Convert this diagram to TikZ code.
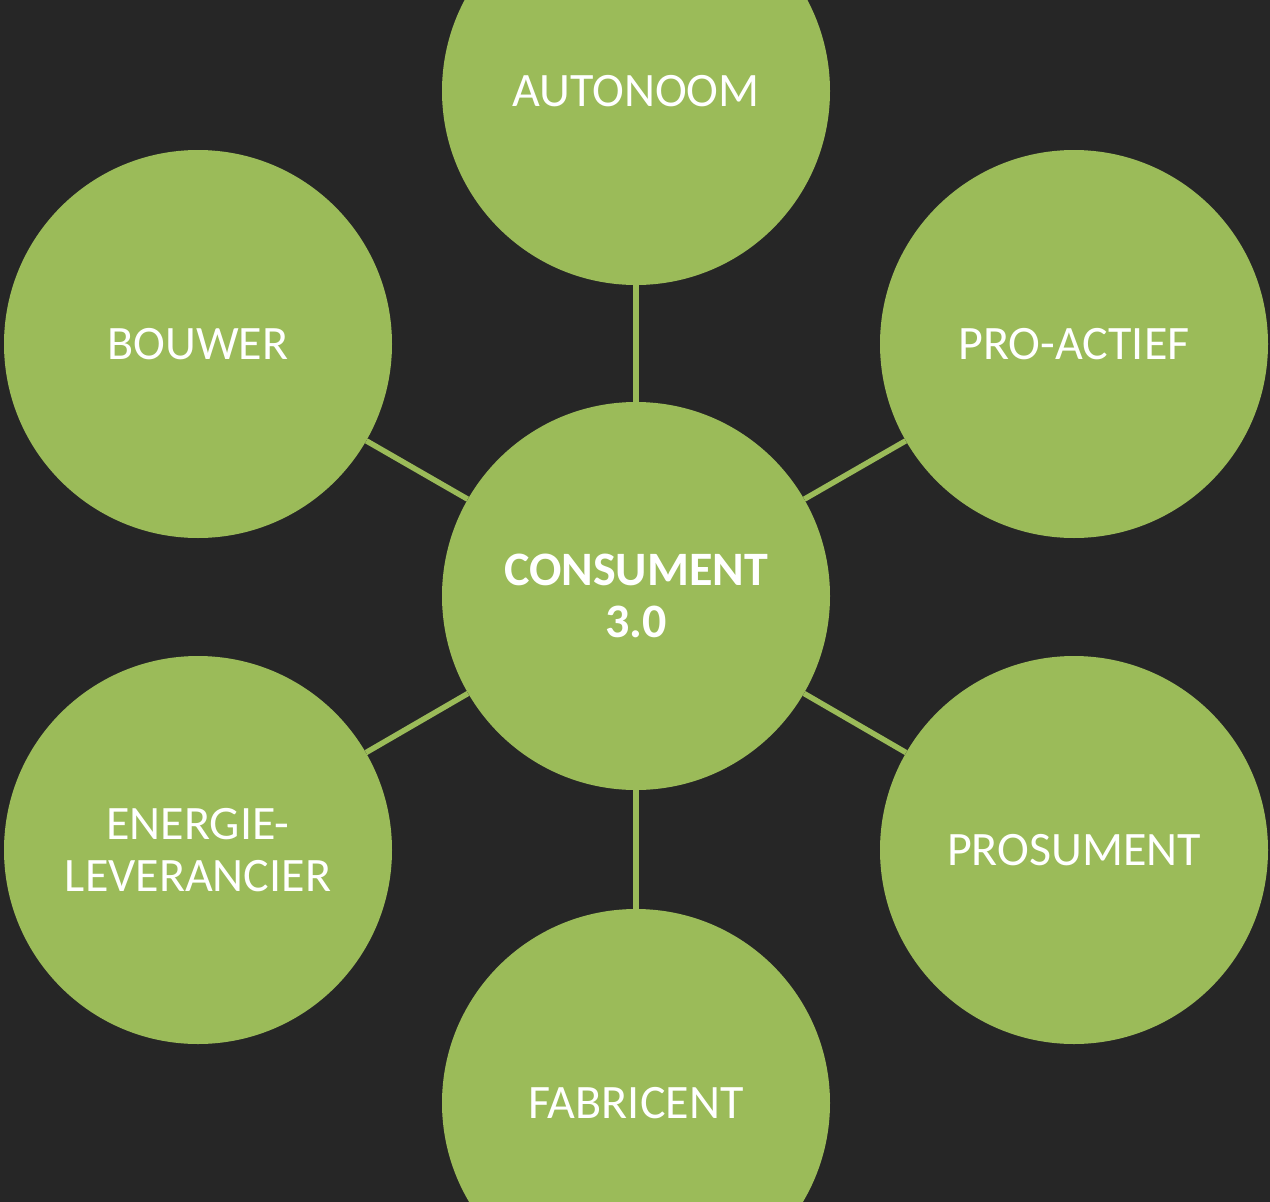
\documentclass[tikz,border=0pt]{standalone}
\usepackage{fontspec}
\setmainfont{Carlito}
\definecolor{bgdark}{HTML}{262626}
\definecolor{leaf}{HTML}{9BBB59}
\begin{document}
\begin{tikzpicture}[x=1pt,y=-1pt,
  bubble/.style={circle,fill=leaf,minimum size=388pt,inner sep=0pt,text=white,
    font=\fontsize{48}{52}\selectfont,align=center},
  link/.style={draw=leaf,line width=5.5pt}]
\fill[bgdark] (0,0) rectangle (1270,1202);
\useasboundingbox (0,0) rectangle (1270,1202);
\begin{scope}
\clip (0,0) rectangle (1270,1202);
\node[bubble] (c) at (636,596) {\bfseries CONSUMENT\\\bfseries 3.0};
\node[bubble] (top) at (636,91) {AUTONOOM};
\node[bubble] (bot) at (636,1103) {FABRICENT};
\node[bubble] (ul) at (198,344) {BOUWER};
\node[bubble] (ur) at (1074,344) {PRO-ACTIEF};
\node[bubble] (ll) at (198,850) {ENERGIE-\\LEVERANCIER};
\node[bubble] (lr) at (1074,850) {PROSUMENT};
\draw[link] (c) -- (top);
\draw[link] (c) -- (bot);
\draw[link] (c) -- (ul);
\draw[link] (c) -- (ur);
\draw[link] (c) -- (ll);
\draw[link] (c) -- (lr);
\end{scope}
\end{tikzpicture}
\end{document}
